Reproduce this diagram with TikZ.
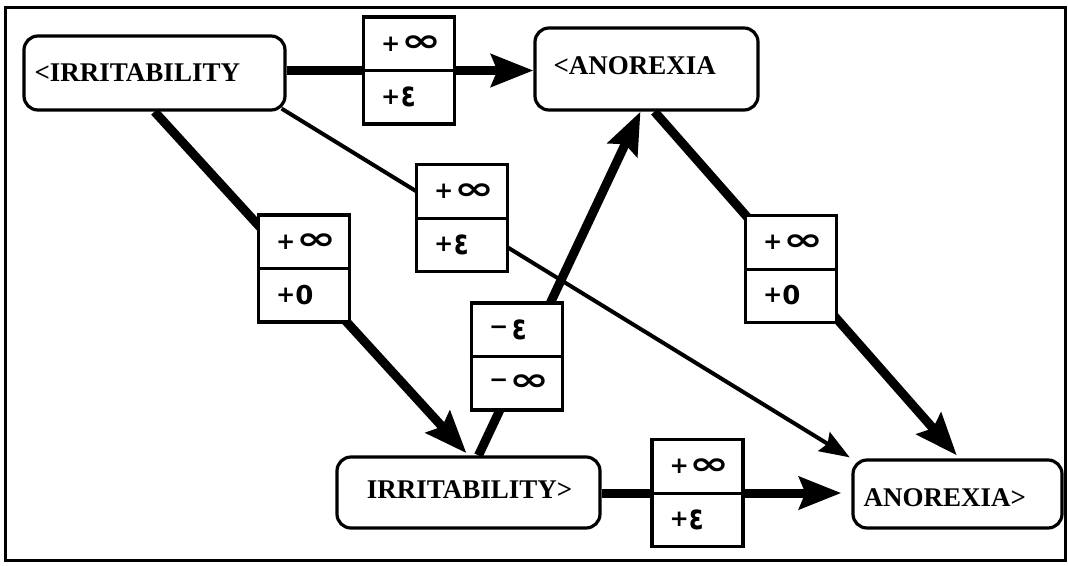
\documentclass[tikz,border=0pt]{standalone}
\usepackage{fontspec}
\usepackage{graphicx}
\setmainfont{Liberation Serif}
\newfontfamily\cellfont{DejaVu Sans}
\usetikzlibrary{arrows.meta,calc}
\pgfdeclarelayer{bg}
\pgfsetlayers{bg,main}

% pieces of the interval labels, each centred on the math axis
\newcommand\vmid[1]{$\vcenter{\hbox{#1}}$}
\newcommand\plussign{\vmid{\fontsize{23}{23}\selectfont +}}
\newcommand\minussign{\vmid{\fontsize{23}{23}\selectfont −}}
\newcommand\bigInf{\vmid{\scalebox{1.85}[1.2]{\fontsize{26}{26}\selectfont ∞}}}
\newcommand\bigEps{\vmid{\scalebox{1}[1.35]{\fontsize{26}{26}\selectfont ε}}}
\newcommand\bigZero{\vmid{\fontsize{26}{26}\selectfont 0}}

\tikzset{
  state/.style={draw, line width=3.2pt, rounded corners=14pt, fill=white, inner sep=0pt},
  statetext/.style={font=\fontsize{27}{27}\selectfont\bfseries, inner sep=0pt, anchor=west},
  cellbox/.style={draw, line width=3.4pt, fill=white, minimum width=91pt, minimum height=107pt, inner sep=0pt},
  celltext/.style={font=\cellfont\bfseries, inner sep=0pt, anchor=west},
  heavy/.style={line width=9pt, -{Stealth[length=42pt,width=32pt,inset=6pt]}},
  light/.style={line width=4pt, -{Stealth[length=30pt,width=22pt,inset=4pt]}},
}

% two-cell interval box: name, centre, upper text, lower text
\newcommand\labelpair[4]{%
  \node[cellbox] (#1) at (#2) {};
  \draw[line width=3pt] (#1.west) -- (#1.east);
  \node[celltext] (#1-up) at ($(#1.west)+(19,-26.5)$) {#3};
  \node[celltext] (#1-dn) at ($(#1.west)+(19,26.5)$) {#4};
}

\begin{document}
\begin{tikzpicture}[x=1pt,y=-1pt]
\useasboundingbox (0,0) rectangle (1068,565);

% states
\node[state, minimum width=261pt, minimum height=74pt] (irr) at (154.5,73) {};
\node[statetext] (irr-t) at ($(irr.west)+(12,0)$) {<IRRITABILITY};
\node[state, minimum width=223pt, minimum height=82pt] (ano) at (646.5,69) {};
\node[statetext] (ano-t) at ($(ano.west)+(20,-3)$) {<ANOREXIA};
\node[state, minimum width=263pt, minimum height=71pt] (irr2) at (468.5,492.5) {};
\node[statetext, anchor=center] (irr2-t) at ($(irr2.center)+(1,-3)$) {IRRITABILITY>};
\node[state, minimum width=209pt, minimum height=68pt] (ano2) at (957.5,494) {};
\node[statetext] (ano2-t) at ($(ano2.west)+(12,4)$) {ANOREXIA>};

% interval labels on the links
\labelpair{lT}{409,70.5}{\plussign\kern1pt\bigInf}{\plussign\kern1pt\bigEps}
\labelpair{lM}{462,218}{\plussign\kern1pt\bigInf}{\plussign\kern1pt\bigEps}
\labelpair{lL}{304,268.5}{\plussign\kern1pt\bigInf}{\plussign\bigZero}
\labelpair{lR}{791,269}{\plussign\kern1pt\bigInf}{\plussign\bigZero}
\labelpair{lC}{517,356.5}{\minussign\kern4pt\bigEps}{\minussign\kern1pt\bigInf}
\labelpair{lB}{697.5,493}{\plussign\kern1pt\bigInf}{\plussign\kern1pt\bigEps}

\begin{pgfonlayer}{bg}
  \fill[white] (0,0) rectangle (1068,565);
  \draw[heavy] (irr.east |- lT.center) -- (ano.west |- lT.center);
  \draw[heavy, shorten >=10pt] (irr2.east |- lB.center) -- (ano2.west |- lB.center);
  \draw[heavy, shorten >=3pt] (irr.south) -- (irr2.north);
  \draw[heavy, shorten >=4pt] ($(ano.south)+(8,0)$) -- ($(ano2.north)+(2,0)$);
  \draw[heavy] ($(irr2.north)+(10,0)$) -- ($(ano.south)+(-6,0)$);
  \draw[light, shorten >=2pt] ($(irr.south east)+(-5,-3)$) -- (ano2.north west);
\end{pgfonlayer}

% outer frame
\draw[line width=3pt] (5,7) rectangle (1065,560.5);
\end{tikzpicture}
\end{document}
